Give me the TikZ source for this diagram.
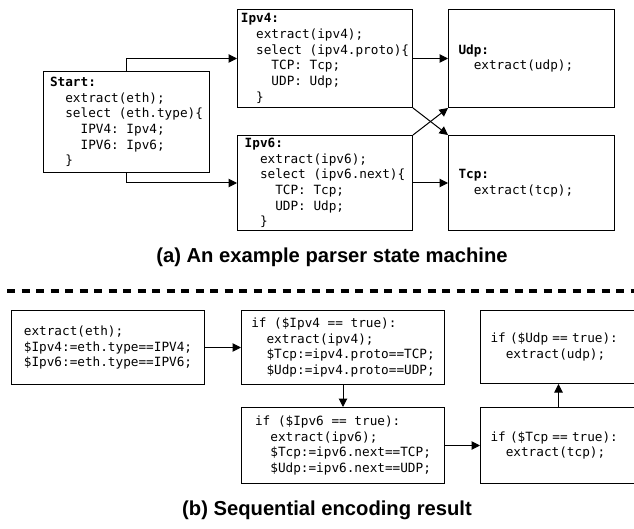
\documentclass[tikz,border=0pt]{standalone}
\usepackage{fontspec}
\setmainfont{Liberation Sans}
\setmonofont{DejaVu Sans Mono}
\usetikzlibrary{arrows.meta}
\newcommand\codefont{\ttfamily\fontsize{12.7}{15.7}\selectfont}
\newcommand\indA{\hphantom{xx}}
\newcommand\indB{\hphantom{xxxx}}
\begin{document}
\begin{tikzpicture}[x=1pt,y=-1pt,
  box/.style={draw, line width=1pt, font=\codefont, align=left, inner sep=0pt, anchor=north west},
  padbox/.style={box, inner xsep=10pt},
  arr/.style={line width=1pt, -{Triangle[length=8.5pt,width=8.5pt]}},
  captxt/.style={font=\fontsize{20.2}{24}\selectfont\bfseries}]
\useasboundingbox (0,0) rectangle (634,529);
\clip (0,0) rectangle (634,529);

% (a) parser state machine
\node[box, minimum width=166pt, minimum height=101pt] (start) at (43,71)
  {\textbf{Start:}\\\indA extract(eth);\\\indA select (eth.type)\{\\\indB IPV4: Ipv4;\\\indB IPV6: Ipv6;\\\indA\}};
\node[box, minimum width=175pt, minimum height=98pt] (ipv4) at (237,9)
  {\textbf{Ipv4:}\\\indA extract(ipv4);\\\indA select (ipv4.proto)\{\\\indB TCP: Tcp;\\\indB UDP: Udp;\\\indA\}};
\node[box, minimum width=175pt, minimum height=95pt] (ipv6) at (237,135)
  {\textbf{Ipv6:}\\\indA extract(ipv6);\\\indA select (ipv6.next)\{\\\indB TCP: Tcp;\\\indB UDP: Udp;\\\indA\}};
\node[padbox, text width=146pt, minimum width=166pt, minimum height=98pt] (udp) at (448,9)
  {\textbf{Udp:}\\\indA extract(udp);};
\node[padbox, text width=146pt, minimum width=166pt, minimum height=95pt] (tcp) at (448,135)
  {\textbf{Tcp:}\\\indA extract(tcp);};

\draw[arr] (start.north) |- (ipv4.west);
\draw[arr] (start.south) |- (ipv6.west);
\draw[arr] (ipv4.east) -- (udp.west);
\draw[arr] (ipv6.east) -- (tcp.west);
\draw[arr] (ipv4.south east) -- (tcp.north west);
\draw[arr] (ipv6.north east) -- (udp.south west);

\node[captxt] (capA) at (332,257) {(a) An example parser state machine};

% separator
\coordinate (dl) at (7,291);
\coordinate (dr) at (640,291);
\draw[line width=3.5pt, dash pattern=on 8pt off 6.5pt] (dl) -- (dr);

% (b) sequential encoding
\node[box, minimum width=193pt, minimum height=74pt] (b1) at (11,310)
  {extract(eth);\\\$Ipv4:=eth.type==IPV4;\\\$Ipv6:=eth.type==IPV6;};
\node[box, minimum width=203pt, minimum height=74pt] (b2) at (241,310)
  {if (\$Ipv4 == true):\\\indA extract(ipv4);\\\indA \$Tcp:=ipv4.proto==TCP;\\\indA \$Udp:=ipv4.proto==UDP;};
\node[box, minimum width=203pt, minimum height=76pt] (b3) at (241,407)
  {if (\$Ipv6 == true):\\\indA extract(ipv6);\\\indA \$Tcp:=ipv6.next==TCP;\\\indA \$Udp:=ipv6.next==UDP;};
\node[padbox, text width=136pt, minimum width=156pt, minimum height=73pt] (b4) at (480,310)
  {\mbox{if (\$Udp == true):}\\\indA extract(udp);};
\node[padbox, text width=136pt, minimum width=156pt, minimum height=76pt] (b5) at (480,407)
  {\mbox{if (\$Tcp == true):}\\\indA extract(tcp);};

\draw[arr] (b1.east) -- (b2.west);
\draw[arr] (b2.south) -- (b3.north);
\draw[arr] (b3.east) -- (b5.west);
\draw[arr] (b5.north) -- (b4.south);

\node[captxt] (capB) at (327,510) {(b) Sequential encoding result};
\end{tikzpicture}
\end{document}
